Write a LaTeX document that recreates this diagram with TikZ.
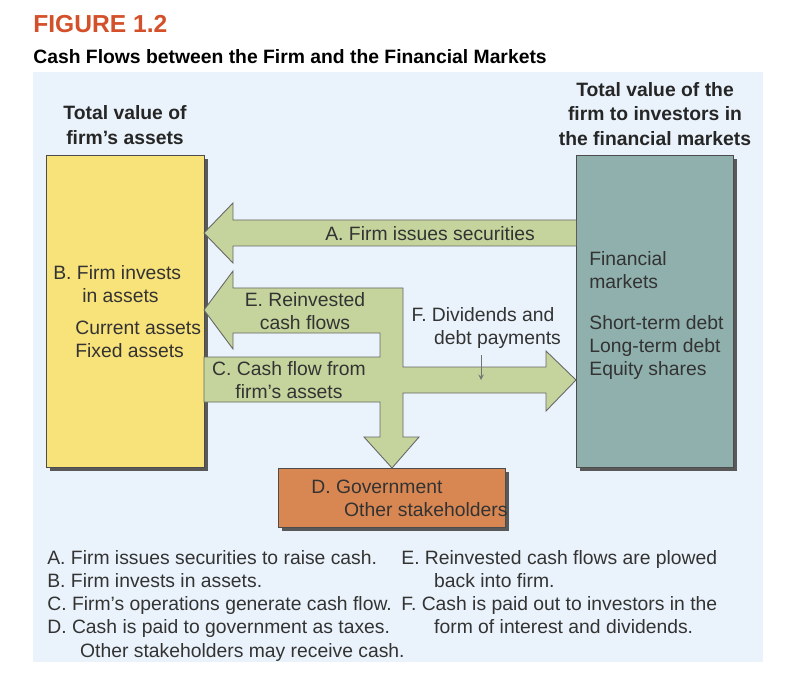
\documentclass[tikz,border=0pt]{standalone}
\usepackage{fontspec}
\setmainfont{Liberation Sans}
\usetikzlibrary{positioning}
\definecolor{bgblue}{HTML}{EAF3FB}
\definecolor{assetyel}{HTML}{F8E27A}
\definecolor{marketgr}{HTML}{8FB0AC}
\definecolor{flowgr}{HTML}{C5D49C}
\definecolor{govorg}{HTML}{D98752}
\definecolor{figred}{HTML}{D4502A}
\begin{document}
\begin{tikzpicture}[x=0.02cm,y=-0.02cm,
txt/.style={font=\fontsize{11}{13}\selectfont, text=black!80, inner sep=0pt},
head/.style={font=\bfseries\fontsize{11}{14}\selectfont, text=black!85, inner sep=0pt, align=center},
panel/.style={draw=black!70, line width=0.5pt},
shadow/.style={fill=black!65},
flow/.style={fill=flowgr, draw=black!60, line width=0.5pt, line join=miter},]

\useasboundingbox (0,0) rectangle (803,678);
\fill[white] (0,0) rectangle (803,678);
\fill[bgblue] (33,72) rectangle (763,662);

\node (fig) [anchor=west, text=figred, font=\bfseries\fontsize{14}{16}\selectfont, inner sep=0pt] at (33,24) {FIGURE 1.2};
\node (title) [anchor=west, font=\bfseries\fontsize{11}{13}\selectfont, inner sep=0pt] at (33,57) {Cash Flows between the Firm and the Financial Markets};

\node (assethead) [head] at (125,125) {Total value of\\firm's assets};
\node (markethead) [head] at (655,114) {Total value of the\\firm to investors in\\the financial markets};

% boxes with shadow
\fill[shadow] (50,159) rectangle (208,471);
\draw[panel, fill=assetyel] (46,155) rectangle (204,467);
\fill[shadow] (580,159) rectangle (737,471);
\draw[panel, fill=marketgr] (576,155) rectangle (733,467);
\fill[shadow] (282,472) rectangle (509,531);
\draw[panel, fill=govorg] (278,468) rectangle (505,527);

% arrows
\draw[flow] (576,220) -- (233,220) -- (233,203) -- (204,233) -- (233,263) -- (233,246) -- (576,246);
\draw[flow] (204,310) -- (233,271) -- (233,288) -- (403,288) -- (403,367) -- (546,367) -- (546,351)
  -- (576,380) -- (546,411) -- (546,393) -- (403,393) -- (403,437) -- (419,437) -- (392,468)
  -- (364,437) -- (380,437) -- (380,402) -- (204,402) -- (204,357) -- (380,357) -- (380,333)
  -- (233,333) -- (233,349) -- cycle;

\node (flowA) [txt, anchor=west] at (325,234) {A. Firm issues securities};
\node (flowE) [txt, align=center] at (305,311) {E. Reinvested\\cash flows};
\node (flowC) [txt, align=center] at (289,380) {C. Cash flow from\\firm's assets};
\node (flowF) [txt, align=center] at (483,328) {F. Dividends and\\\hspace*{1.5em}debt payments};
\coordinate (ftop) at (481,355);
\coordinate (fbot) at (481,380);
\draw[black!55, -stealth] (ftop) -- (fbot);

\node (invest) [txt, align=left, anchor=north west] at (53,265) {B. Firm invests\\\hspace*{1.5em}in assets};
\node (assets) [txt, align=left, anchor=north west] at (75,321) {Current assets\\Fixed assets};
\node (fin) [txt, align=left, anchor=north west] at (589,251) {Financial\\markets};
\node (secs) [txt, align=left, anchor=north west] at (589,315) {Short-term debt\\Long-term debt\\Equity shares};
\node (gov) [txt, align=left, anchor=north west] at (311,480) {D. Government\\\hspace*{1.7em}Other stakeholders};

\node (notesL) [txt, align=left, anchor=north west, font=\fontsize{11}{13.2}\selectfont] at (47,550)
 {A. Firm issues securities to raise cash.\\B. Firm invests in assets.\\C. Firm's operations generate cash flow.\\D. Cash is paid to government as taxes.\\\hspace*{1.7em}Other stakeholders may receive cash.};
\node (notesR) [txt, align=left, anchor=north west, font=\fontsize{11}{13.2}\selectfont] at (401,550)
 {E. Reinvested cash flows are plowed\\\hspace*{1.7em}back into firm.\\F. Cash is paid out to investors in the\\\hspace*{1.7em}form of interest and dividends.};
\end{tikzpicture}
\end{document}
